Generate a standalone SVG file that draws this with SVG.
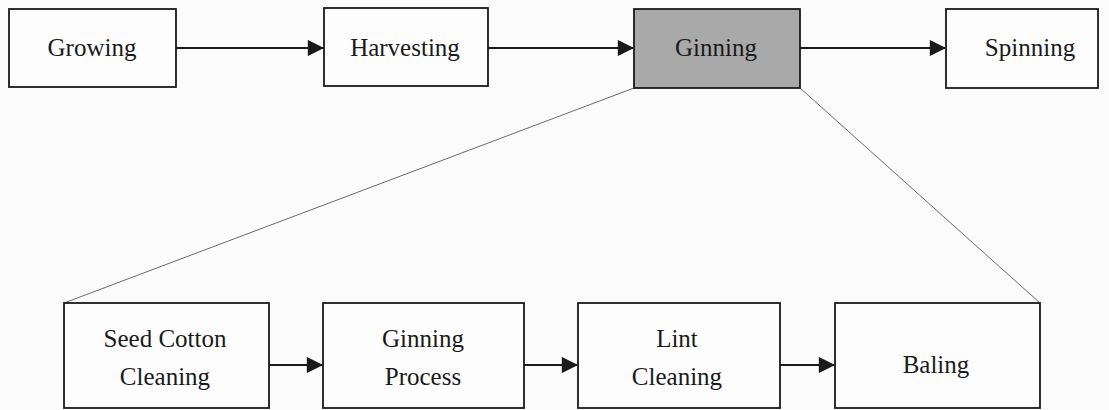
<svg xmlns="http://www.w3.org/2000/svg" width="1109" height="410" viewBox="0 0 1109 410">
<style>
.box{fill:#fdfdfd;stroke:#1a1a1a;stroke-width:1.8}
.gray{fill:#a9a9a9}
.t{font-family:"Liberation Serif","Times New Roman","DejaVu Serif",serif;font-size:25px;fill:#1a1a1a;text-anchor:middle}
.c{stroke:#1a1a1a;stroke-width:1.8;fill:none;marker-end:url(#ah)}
.d{stroke:#6a6a6a;stroke-width:1;fill:none}
</style>
<defs>
<marker id="ah" viewBox="0 0 10 10" refX="10" refY="5" markerWidth="10" markerHeight="9" markerUnits="strokeWidth" orient="auto">
<path d="M0,0 L10,5 L0,10 z" fill="#1a1a1a"/>
</marker>
</defs>
<rect width="1109" height="410" fill="#fbfbfb"/>
<g id="connectors">
<line class="c" x1="176" y1="48" x2="324" y2="48"/>
<line class="c" x1="488" y1="48" x2="634" y2="48"/>
<line class="c" x1="800" y1="48" x2="946" y2="48"/>
<line class="c" x1="269" y1="365" x2="323" y2="365"/>
<line class="c" x1="524" y1="365" x2="578" y2="365"/>
<line class="c" x1="780" y1="365" x2="835" y2="365"/>
<line class="d" x1="634" y1="88" x2="64" y2="303"/>
<line class="d" x1="800" y1="88" x2="1040" y2="303"/>
</g>
<g id="growing"><rect class="box" x="9" y="9" width="167" height="78"/><text class="t" x="92" y="56">Growing</text></g>
<g id="harvesting"><rect class="box" x="324" y="8" width="164" height="78"/><text class="t" x="405" y="56">Harvesting</text></g>
<g id="ginning"><rect class="box gray" x="634" y="9" width="166" height="79"/><text class="t" x="716" y="56">Ginning</text></g>
<g id="spinning"><rect class="box" x="946" y="9" width="152" height="79"/><text class="t" x="1030" y="56">Spinning</text></g>
<g id="seed-cotton-cleaning"><rect class="box" x="64" y="303" width="205" height="105"/><text class="t" x="165" y="347">Seed Cotton</text><text class="t" x="165" y="385">Cleaning</text></g>
<g id="ginning-process"><rect class="box" x="323" y="303" width="201" height="105"/><text class="t" x="423" y="347">Ginning</text><text class="t" x="423" y="385">Process</text></g>
<g id="lint-cleaning"><rect class="box" x="578" y="303" width="202" height="105"/><text class="t" x="677" y="347">Lint</text><text class="t" x="677" y="385">Cleaning</text></g>
<g id="baling"><rect class="box" x="835" y="303" width="205" height="105"/><text class="t" x="936" y="373">Baling</text></g>
</svg>
